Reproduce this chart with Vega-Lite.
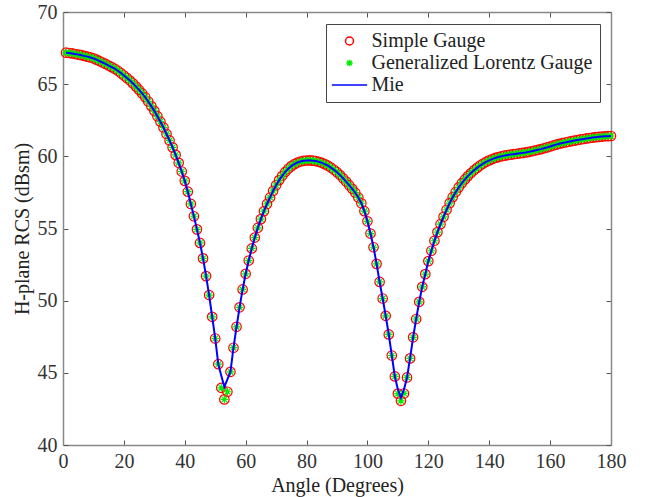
{
  "$schema": "https://vega.github.io/schema/vega-lite/v6.json",
  "width": 548,
  "height": 433,
  "autosize": "none",
  "padding": {"left": 63, "top": 12, "right": 36, "bottom": 52},
  "background": "white",
  "config": {"view": {"stroke": null}, "font": "Liberation Serif"},
  "data": {"values": [
    {"a":1,"S":67.18,"G":67.18,"M":67.18},{"a":2,"S":67.16,"G":67.16,"M":67.16},{"a":3,"S":67.13,"G":67.13,"M":67.13},{"a":4,"S":67.09,"G":67.09,"M":67.09},{"a":5,"S":67.05,"G":67.05,"M":67.05},
    {"a":6,"S":67.01,"G":67.01,"M":67.01},{"a":7,"S":66.96,"G":66.96,"M":66.96},{"a":8,"S":66.91,"G":66.91,"M":66.91},{"a":9,"S":66.85,"G":66.85,"M":66.85},{"a":10,"S":66.79,"G":66.79,"M":66.79},
    {"a":11,"S":66.7,"G":66.7,"M":66.7},{"a":12,"S":66.6,"G":66.6,"M":66.6},{"a":13,"S":66.5,"G":66.5,"M":66.5},{"a":14,"S":66.4,"G":66.4,"M":66.4},{"a":15,"S":66.29,"G":66.29,"M":66.29},
    {"a":16,"S":66.18,"G":66.18,"M":66.18},{"a":17,"S":66.07,"G":66.07,"M":66.07},{"a":18,"S":65.93,"G":65.93,"M":65.93},{"a":19,"S":65.77,"G":65.77,"M":65.77},{"a":20,"S":65.6,"G":65.6,"M":65.6},
    {"a":21,"S":65.43,"G":65.43,"M":65.43},{"a":22,"S":65.25,"G":65.25,"M":65.25},{"a":23,"S":65.05,"G":65.05,"M":65.05},{"a":24,"S":64.83,"G":64.83,"M":64.83},{"a":25,"S":64.6,"G":64.6,"M":64.6},
    {"a":26,"S":64.36,"G":64.36,"M":64.36},{"a":27,"S":64.1,"G":64.1,"M":64.1},{"a":28,"S":63.8,"G":63.8,"M":63.8},{"a":29,"S":63.48,"G":63.48,"M":63.48},{"a":30,"S":63.15,"G":63.15,"M":63.15},
    {"a":31,"S":62.78,"G":62.78,"M":62.78},{"a":32,"S":62.4,"G":62.4,"M":62.4},{"a":33,"S":62.0,"G":62.0,"M":62.0},{"a":34,"S":61.55,"G":61.55,"M":61.55},{"a":35,"S":61.1,"G":61.1,"M":61.1},
    {"a":36,"S":60.62,"G":60.62,"M":60.62},{"a":37,"S":60.1,"G":60.1,"M":60.1},{"a":38,"S":59.55,"G":59.55,"M":59.55},{"a":39,"S":58.95,"G":58.95,"M":58.95},{"a":40,"S":58.3,"G":58.3,"M":58.3},
    {"a":41,"S":57.55,"G":57.55,"M":57.55},{"a":42,"S":56.7,"G":56.7,"M":56.7},{"a":43,"S":55.85,"G":55.85,"M":55.85},{"a":44,"S":54.94,"G":54.94,"M":54.94},{"a":45,"S":54.0,"G":54.0,"M":54.0},
    {"a":46,"S":52.93,"G":52.93,"M":52.93},{"a":47,"S":51.7,"G":51.7,"M":51.7},{"a":48,"S":50.39,"G":50.39,"M":50.39},{"a":49,"S":48.88,"G":48.88,"M":48.88},{"a":50,"S":47.38,"G":47.38,"M":47.38},
    {"a":51,"S":45.6,"G":45.6,"M":45.6},{"a":52,"S":43.96,"G":43.96,"M":44.8},{"a":53,"S":43.16,"G":43.16,"M":44.03},{"a":54,"S":43.69,"G":43.69,"M":44.55},{"a":55,"S":45.07,"G":45.07,"M":45.07},
    {"a":56,"S":46.74,"G":46.74,"M":46.74},{"a":57,"S":48.19,"G":48.19,"M":48.19},{"a":58,"S":49.54,"G":49.54,"M":49.54},{"a":59,"S":50.78,"G":50.78,"M":50.78},{"a":60,"S":51.86,"G":51.86,"M":51.86},
    {"a":61,"S":52.78,"G":52.78,"M":52.78},{"a":62,"S":53.62,"G":53.62,"M":53.62},{"a":63,"S":54.37,"G":54.37,"M":54.37},{"a":64,"S":55.05,"G":55.05,"M":55.05},{"a":65,"S":55.65,"G":55.65,"M":55.65},
    {"a":66,"S":56.2,"G":56.2,"M":56.2},{"a":67,"S":56.7,"G":56.7,"M":56.7},{"a":68,"S":57.15,"G":57.15,"M":57.15},{"a":69,"S":57.6,"G":57.6,"M":57.6},{"a":70,"S":58.0,"G":58.0,"M":58.0},
    {"a":71,"S":58.35,"G":58.35,"M":58.35},{"a":72,"S":58.65,"G":58.65,"M":58.65},{"a":73,"S":58.92,"G":58.92,"M":58.92},{"a":74,"S":59.14,"G":59.14,"M":59.14},{"a":75,"S":59.32,"G":59.32,"M":59.32},
    {"a":76,"S":59.46,"G":59.46,"M":59.46},{"a":77,"S":59.57,"G":59.57,"M":59.57},{"a":78,"S":59.64,"G":59.64,"M":59.64},{"a":79,"S":59.69,"G":59.69,"M":59.69},{"a":80,"S":59.71,"G":59.71,"M":59.71},
    {"a":81,"S":59.72,"G":59.72,"M":59.72},{"a":82,"S":59.7,"G":59.7,"M":59.7},{"a":83,"S":59.67,"G":59.67,"M":59.67},{"a":84,"S":59.62,"G":59.62,"M":59.62},{"a":85,"S":59.55,"G":59.55,"M":59.55},
    {"a":86,"S":59.46,"G":59.46,"M":59.46},{"a":87,"S":59.35,"G":59.35,"M":59.35},{"a":88,"S":59.22,"G":59.22,"M":59.22},{"a":89,"S":59.07,"G":59.07,"M":59.07},{"a":90,"S":58.9,"G":58.9,"M":58.9},
    {"a":91,"S":58.7,"G":58.7,"M":58.7},{"a":92,"S":58.48,"G":58.48,"M":58.48},{"a":93,"S":58.25,"G":58.25,"M":58.25},{"a":94,"S":58.0,"G":58.0,"M":58.0},{"a":95,"S":57.75,"G":57.75,"M":57.75},
    {"a":96,"S":57.48,"G":57.48,"M":57.48},{"a":97,"S":57.15,"G":57.15,"M":57.15},{"a":98,"S":56.75,"G":56.75,"M":56.75},{"a":99,"S":56.2,"G":56.2,"M":56.2},{"a":100,"S":55.5,"G":55.5,"M":55.5},
    {"a":101,"S":54.65,"G":54.65,"M":54.65},{"a":102,"S":53.7,"G":53.7,"M":53.7},{"a":103,"S":52.55,"G":52.55,"M":52.55},{"a":104,"S":51.3,"G":51.3,"M":51.3},{"a":105,"S":50.15,"G":50.15,"M":50.15},
    {"a":106,"S":48.95,"G":48.95,"M":48.95},{"a":107,"S":47.66,"G":47.66,"M":47.66},{"a":108,"S":46.2,"G":46.2,"M":46.2},{"a":109,"S":44.75,"G":44.75,"M":44.75},{"a":110,"S":43.56,"G":43.56,"M":43.85},
    {"a":111,"S":43.06,"G":43.06,"M":43.28},{"a":112,"S":43.57,"G":43.57,"M":43.85},{"a":113,"S":44.68,"G":44.68,"M":44.68},{"a":114,"S":46.0,"G":46.0,"M":46.0},{"a":115,"S":47.46,"G":47.46,"M":47.46},
    {"a":116,"S":48.73,"G":48.73,"M":48.73},{"a":117,"S":49.92,"G":49.92,"M":49.92},{"a":118,"S":50.96,"G":50.96,"M":50.96},{"a":119,"S":51.84,"G":51.84,"M":51.84},{"a":120,"S":52.74,"G":52.74,"M":52.74},
    {"a":121,"S":53.46,"G":53.46,"M":53.46},{"a":122,"S":54.15,"G":54.15,"M":54.15},{"a":123,"S":54.75,"G":54.75,"M":54.75},{"a":124,"S":55.3,"G":55.3,"M":55.3},{"a":125,"S":55.81,"G":55.81,"M":55.81},
    {"a":126,"S":56.3,"G":56.3,"M":56.3},{"a":127,"S":56.76,"G":56.76,"M":56.76},{"a":128,"S":57.17,"G":57.17,"M":57.17},{"a":129,"S":57.53,"G":57.53,"M":57.53},{"a":130,"S":57.85,"G":57.85,"M":57.85},
    {"a":131,"S":58.14,"G":58.14,"M":58.14},{"a":132,"S":58.4,"G":58.4,"M":58.4},{"a":133,"S":58.63,"G":58.63,"M":58.63},{"a":134,"S":58.84,"G":58.84,"M":58.84},{"a":135,"S":59.03,"G":59.03,"M":59.03},
    {"a":136,"S":59.2,"G":59.2,"M":59.2},{"a":137,"S":59.36,"G":59.36,"M":59.36},{"a":138,"S":59.5,"G":59.5,"M":59.5},{"a":139,"S":59.62,"G":59.62,"M":59.62},{"a":140,"S":59.72,"G":59.72,"M":59.72},
    {"a":141,"S":59.81,"G":59.81,"M":59.81},{"a":142,"S":59.89,"G":59.89,"M":59.89},{"a":143,"S":59.95,"G":59.95,"M":59.95},{"a":144,"S":60.0,"G":60.0,"M":60.0},{"a":145,"S":60.05,"G":60.05,"M":60.05},
    {"a":146,"S":60.09,"G":60.09,"M":60.09},{"a":147,"S":60.12,"G":60.12,"M":60.12},{"a":148,"S":60.15,"G":60.15,"M":60.15},{"a":149,"S":60.18,"G":60.18,"M":60.18},{"a":150,"S":60.21,"G":60.21,"M":60.21},
    {"a":151,"S":60.24,"G":60.24,"M":60.24},{"a":152,"S":60.27,"G":60.27,"M":60.27},{"a":153,"S":60.31,"G":60.31,"M":60.31},{"a":154,"S":60.35,"G":60.35,"M":60.35},{"a":155,"S":60.4,"G":60.4,"M":60.4},
    {"a":156,"S":60.45,"G":60.45,"M":60.45},{"a":157,"S":60.5,"G":60.5,"M":60.5},{"a":158,"S":60.56,"G":60.56,"M":60.56},{"a":159,"S":60.62,"G":60.62,"M":60.62},{"a":160,"S":60.68,"G":60.68,"M":60.68},
    {"a":161,"S":60.75,"G":60.75,"M":60.75},{"a":162,"S":60.81,"G":60.81,"M":60.81},{"a":163,"S":60.87,"G":60.87,"M":60.87},{"a":164,"S":60.92,"G":60.92,"M":60.92},{"a":165,"S":60.96,"G":60.96,"M":60.96},
    {"a":166,"S":61.01,"G":61.01,"M":61.01},{"a":167,"S":61.05,"G":61.05,"M":61.05},{"a":168,"S":61.09,"G":61.09,"M":61.09},{"a":169,"S":61.13,"G":61.13,"M":61.13},{"a":170,"S":61.17,"G":61.17,"M":61.17},
    {"a":171,"S":61.2,"G":61.2,"M":61.2},{"a":172,"S":61.24,"G":61.24,"M":61.24},{"a":173,"S":61.27,"G":61.27,"M":61.27},{"a":174,"S":61.3,"G":61.3,"M":61.3},{"a":175,"S":61.33,"G":61.33,"M":61.33},
    {"a":176,"S":61.35,"G":61.35,"M":61.35},{"a":177,"S":61.37,"G":61.37,"M":61.37},{"a":178,"S":61.39,"G":61.39,"M":61.39},{"a":179,"S":61.4,"G":61.4,"M":61.4},{"a":180,"S":61.41,"G":61.41,"M":61.41}
  ]},
  "transform": [{"fold": ["S", "G", "M"], "as": ["series", "value"]}],
  "encoding": {
    "stroke": {
      "field": "series", "type": "nominal",
      "scale": {"domain": ["S", "G", "M"], "range": ["#ff0000", "#00ee00", "#0000ff"]},
      "legend": {
        "title": null, "orient": "none", "legendX": 263, "legendY": 12,
        "strokeColor": "#444", "fillColor": "white", "padding": 7,
        "labelFont": "Liberation Serif", "labelFontSize": 20, "labelColor": "#222", "labelLimit": 400,
        "labelExpr": "datum.label == 'S' ? 'Simple Gauge' : datum.label == 'G' ? 'Generalized Lorentz Gauge' : 'Mie'",
        "symbolSize": 64, "symbolStrokeWidth": 1.5, "symbolFillColor": "transparent", "symbolOffset": 6.5, "labelOffset": 12, "rowPadding": 2
      }
    }
  },
  "layer": [
    {
      "transform": [{"filter": "datum.series == 'S'"}],
      "mark": {"type": "point", "filled": false, "fill": "transparent", "size": 90, "strokeWidth": 1.2, "opacity": 1},
      "encoding": {
        "shape": {
          "field": "series", "type": "nominal",
          "scale": {"domain": ["S", "G", "M"], "range": ["circle", "M-0.8,0H0.8M0,-0.8V0.8M-0.57,-0.57L0.57,0.57M-0.57,0.57L0.57,-0.57", "M-4.4,0H4.4"]},
          "legend": {
            "title": null, "orient": "none", "legendX": 263, "legendY": 12,
            "strokeColor": "#444", "fillColor": "white", "padding": 7,
            "labelFont": "Liberation Serif", "labelFontSize": 20, "labelColor": "#222", "labelLimit": 400,
            "labelExpr": "datum.label == 'S' ? 'Simple Gauge' : datum.label == 'G' ? 'Generalized Lorentz Gauge' : 'Mie'",
            "symbolSize": 64, "symbolStrokeWidth": 1.5, "symbolFillColor": "transparent", "symbolOffset": 6.5, "labelOffset": 12, "rowPadding": 2
          }
        },
        "x": {"field": "a", "type": "quantitative", "scale": {"domain": [0, 180], "nice": false},
          "axis": {"orient": "bottom", "values": [0,20,40,60,80,100,120,140,160,180], "title": "Angle (Degrees)", "grid": false,
            "domainColor": "#888", "domainWidth": 1.5, "tickColor": "#555", "tickSize": -5, "labelPadding": 11,
            "labelFont": "Liberation Serif", "labelFontSize": 20, "labelColor": "#333", "labelFlush": false,
            "titleFont": "Liberation Serif", "titleFontSize": 20, "titleFontWeight": "normal", "titleColor": "#222", "titlePadding": 4}},
        "y": {"field": "value", "type": "quantitative", "scale": {"domain": [40, 70], "nice": false},
          "axis": {"orient": "left", "values": [40,45,50,55,60,65,70], "title": "H-plane RCS (dBsm)", "grid": false,
            "domainColor": "#888", "domainWidth": 1.5, "tickColor": "#555", "tickSize": -5, "labelPadding": 11,
            "labelFont": "Liberation Serif", "labelFontSize": 20, "labelColor": "#333", "labelFlush": false,
            "titleFont": "Liberation Serif", "titleFontSize": 20, "titleFontWeight": "normal", "titleColor": "#222", "titlePadding": 5}}
      }
    },
    {
      "transform": [{"filter": "datum.series == 'G'"}],
      "mark": {"type": "point", "filled": false, "fill": "transparent", "size": 90, "strokeWidth": 1.2, "opacity": 1},
      "encoding": {
        "shape": {
          "field": "series", "type": "nominal",
          "scale": {"domain": ["S", "G", "M"], "range": ["circle", "M-0.8,0H0.8M0,-0.8V0.8M-0.57,-0.57L0.57,0.57M-0.57,0.57L0.57,-0.57", "M-4.4,0H4.4"]},
          "legend": {
            "title": null, "orient": "none", "legendX": 263, "legendY": 12,
            "strokeColor": "#444", "fillColor": "white", "padding": 7,
            "labelFont": "Liberation Serif", "labelFontSize": 20, "labelColor": "#222", "labelLimit": 400,
            "labelExpr": "datum.label == 'S' ? 'Simple Gauge' : datum.label == 'G' ? 'Generalized Lorentz Gauge' : 'Mie'",
            "symbolSize": 64, "symbolStrokeWidth": 1.5, "symbolFillColor": "transparent", "symbolOffset": 6.5, "labelOffset": 12, "rowPadding": 2
          }
        },
        "x": {"field": "a", "type": "quantitative",
          "axis": {"orient": "top", "values": [0,20,40,60,80,100,120,140,160,180], "title": null, "labels": false, "grid": false,
            "domainColor": "#888", "domainWidth": 1.5, "tickColor": "#555", "tickSize": -5}},
        "y": {"field": "value", "type": "quantitative",
          "axis": {"orient": "right", "values": [40,45,50,55,60,65,70], "title": null, "labels": false, "grid": false,
            "domainColor": "#888", "domainWidth": 1.5, "tickColor": "#555", "tickSize": -5}}
      }
    },
    {
      "transform": [{"filter": "datum.series == 'M'"}],
      "mark": {"type": "line", "strokeWidth": 2},
      "encoding": {
        "x": {"field": "a", "type": "quantitative", "axis": null},
        "y": {"field": "value", "type": "quantitative", "axis": null}
      }
    }
  ],
  "resolve": {"axis": {"x": "independent", "y": "independent"}}
}
